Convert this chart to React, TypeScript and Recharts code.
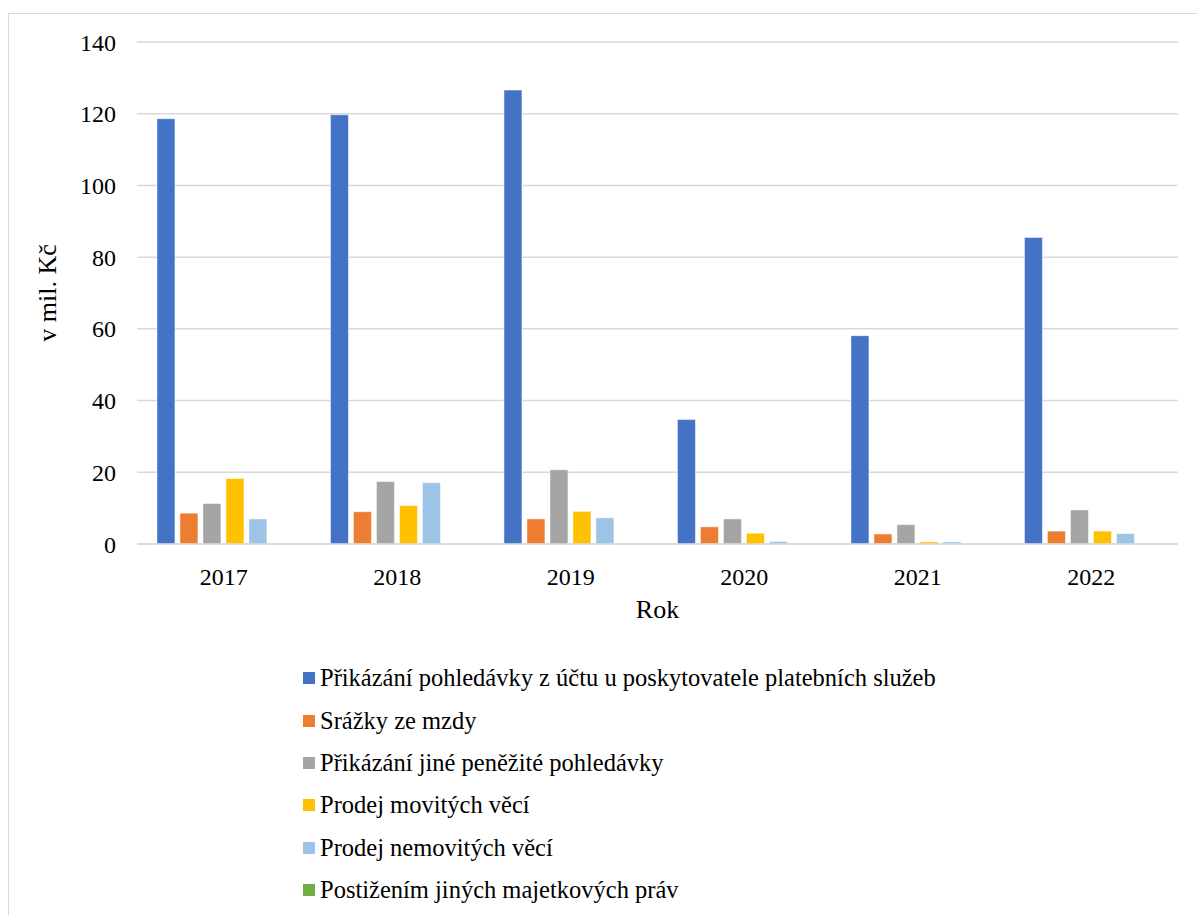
import { BarChart, Bar, XAxis, YAxis, CartesianGrid, Legend } from 'recharts';

const years = ['2017', '2018', '2019', '2020', '2021', '2022'];

// v mil. Kč
const prikazaniUctu = [118.6, 119.7, 126.6, 34.7, 58.1, 85.5];
const srazkyMzdy = [8.6, 9.0, 7.0, 4.8, 2.8, 3.6];
const jinePohledavky = [11.3, 17.4, 20.7, 7.0, 5.4, 9.5];
const movitychVeci = [18.3, 10.7, 9.1, 3.0, 0.6, 3.6];
const nemovitychVeci = [7.0, 17.1, 7.3, 0.7, 0.6, 2.9];
const jinychPrav = [0, 0, 0, 0, 0, 0];

const yTicks = [0, 20, 40, 60, 80, 100, 120, 140];

const seriesNames = [
  'Přikázání pohledávky z účtu u poskytovatele platebních služeb',
  'Srážky ze mzdy',
  'Přikázání jiné peněžité pohledávky',
  'Prodej movitých věcí',
  'Prodej nemovitých věcí',
  'Postižením jiných majetkových práv',
];
const seriesValues = [prikazaniUctu, srazkyMzdy, jinePohledavky, movitychVeci, nemovitychVeci, jinychPrav];
const seriesColors = ['#4472C4', '#ED7D31', '#A5A5A5', '#FFC000', '#9DC3E6', '#70AD47'];

const FONT = '"Liberation Serif", "Times New Roman", serif';

const chartData = years.map((year, i) => {
  const row: Record<string, string | number> = { year };
  seriesNames.forEach((name, s) => {
    row[name] = seriesValues[s][i];
  });
  return row;
});

// legenda v pořadí řad (Recharts by ji jinak řadil podle názvu)
function SeriesLegend() {
  return (
    <div style={{ paddingLeft: 303, paddingTop: 28, height: 286, boxSizing: 'border-box', fontFamily: FONT }}>
      {seriesNames.map((name, s) => (
        <div key={name} style={{ display: 'flex', alignItems: 'center', height: 42.4 }}>
          <span style={{ width: 12, height: 12, background: seriesColors[s], marginRight: 5, flex: 'none' }} />
          <span style={{ fontSize: 24.5, color: '#000', whiteSpace: 'nowrap' }}>{name}</span>
        </div>
      ))}
    </div>
  );
}

function YTitle({ viewBox }: any) {
  const cy = viewBox.y + viewBox.height / 2;
  return (
    <text
      x={47}
      y={cy}
      transform={`rotate(-90, 47, ${cy})`}
      textAnchor="middle"
      dominantBaseline="central"
      fontFamily={FONT}
      fontSize={26}
      fill="#000"
    >
      v mil. Kč
    </text>
  );
}

export default function App() {
  return (
    <div style={{ position: 'absolute', left: 0, top: 0, width: 1197, height: 915, background: '#fff' }}>
      <div
        style={{
          position: 'absolute',
          left: 8,
          top: 13,
          right: 0,
          bottom: 0,
          borderTop: '1.5px solid #d9d9d9',
          borderLeft: '1.5px solid #d9d9d9',
        }}
      />
      <div style={{ position: 'absolute', left: 0, top: 0 }}>
        <BarChart
          width={1197}
          height={915}
          data={chartData}
          margin={{ top: 42, right: 19, bottom: 0, left: 0 }}
          barCategoryGap="11.5%"
          barGap={5}
        >
          <CartesianGrid vertical={false} stroke="#d9d9d9" strokeWidth={1.5} />
          <XAxis
            dataKey="year"
            height={85}
            tickLine={false}
            tickSize={0}
            tickMargin={24}
            axisLine={{ stroke: '#d9d9d9', strokeWidth: 1.5 }}
            tick={{ fontSize: 24, fill: '#000', fontFamily: FONT }}
            label={{ value: 'Rok', position: 'insideBottom', offset: 11, style: { fontSize: 26, fill: '#000', fontFamily: FONT } }}
          />
          <YAxis
            width={137}
            domain={[0, 140]}
            ticks={yTicks}
            interval={0}
            axisLine={false}
            tickLine={false}
            tickSize={0}
            tickMargin={21}
            tick={{ fontSize: 24, fill: '#000', fontFamily: FONT }}
            label={<YTitle />}
          />
          <Legend verticalAlign="bottom" align="left" content={<SeriesLegend />} />
          {seriesNames.map((name, s) => (
            <Bar key={name} dataKey={name} fill={seriesColors[s]} stroke="#fff" strokeWidth={0.5} isAnimationActive={false} />
          ))}
        </BarChart>
      </div>
    </div>
  );
}
